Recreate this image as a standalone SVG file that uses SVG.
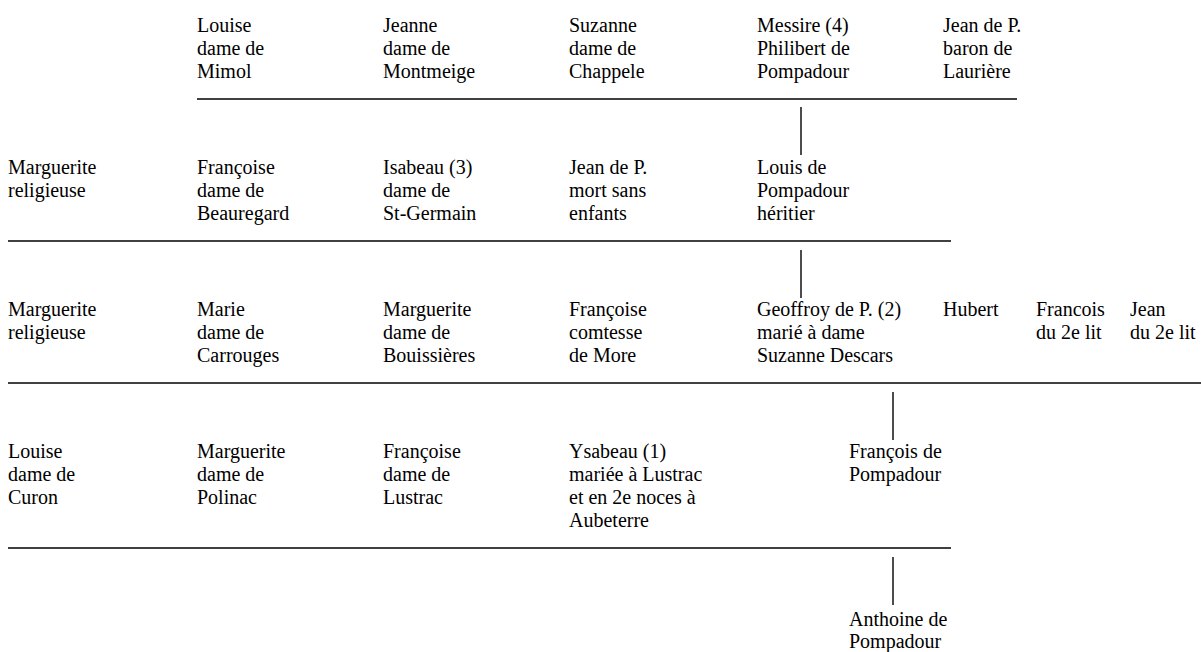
<svg xmlns="http://www.w3.org/2000/svg" width="1201" height="652" viewBox="0 0 1201 652">
<style>
text{font-family:'Liberation Serif','Times New Roman','DejaVu Serif',serif;font-size:20px;fill:#000}
.ln{stroke:#000;stroke-width:1.4;fill:none}
</style>
<rect width="1201" height="652" fill="#fff"/>
<g id="connectors">
<line class="ln" x1="197" y1="99" x2="1017" y2="99"/>
<line class="ln" x1="801" y1="107" x2="801" y2="155"/>
<line class="ln" x1="8" y1="241" x2="951" y2="241"/>
<line class="ln" x1="801" y1="250" x2="801" y2="298"/>
<line class="ln" x1="8" y1="383" x2="1201" y2="383"/>
<line class="ln" x1="893" y1="392" x2="893" y2="440"/>
<line class="ln" x1="8" y1="548" x2="951" y2="548"/>
<line class="ln" x1="893" y1="557" x2="893" y2="605"/>
</g>
<g font-family="Liberation Serif, Times New Roman, DejaVu Serif, serif">
<g id="louise-mimol"><text x="197" y="32">Louise</text><text x="197" y="55">dame de</text><text x="197" y="78">Mimol</text></g>
<g id="jeanne-montmeige"><text x="383" y="32">Jeanne</text><text x="383" y="55">dame de</text><text x="383" y="78">Montmeige</text></g>
<g id="suzanne-chappele"><text x="569" y="32">Suzanne</text><text x="569" y="55">dame de</text><text x="569" y="78">Chappele</text></g>
<g id="philibert"><text x="757" y="32">Messire (4)</text><text x="757" y="55">Philibert de</text><text x="757" y="78">Pompadour</text></g>
<g id="jean-lauriere"><text x="943" y="32">Jean de P.</text><text x="943" y="55">baron de</text><text x="943" y="78">Laurière</text></g>

<g id="marguerite-r2"><text x="8" y="174">Marguerite</text><text x="8" y="197">religieuse</text></g>
<g id="francoise-beauregard"><text x="197" y="174">Françoise</text><text x="197" y="197">dame de</text><text x="197" y="220">Beauregard</text></g>
<g id="isabeau"><text x="383" y="174">Isabeau (3)</text><text x="383" y="197">dame de</text><text x="383" y="220">St-Germain</text></g>
<g id="jean-mort"><text x="569" y="174">Jean de P.</text><text x="569" y="197">mort sans</text><text x="569" y="220">enfants</text></g>
<g id="louis"><text x="757" y="174">Louis de</text><text x="757" y="197">Pompadour</text><text x="757" y="220">héritier</text></g>

<g id="marguerite-r3"><text x="8" y="316">Marguerite</text><text x="8" y="339">religieuse</text></g>
<g id="marie-carrouges"><text x="197" y="316">Marie</text><text x="197" y="339">dame de</text><text x="197" y="362">Carrouges</text></g>
<g id="marguerite-bouissieres"><text x="383" y="316">Marguerite</text><text x="383" y="339">dame de</text><text x="383" y="362">Bouissières</text></g>
<g id="francoise-more"><text x="569" y="316">Françoise</text><text x="569" y="339">comtesse</text><text x="569" y="362">de More</text></g>
<g id="geoffroy"><text x="757" y="316">Geoffroy de P. (2)</text><text x="757" y="339">marié à dame</text><text x="757" y="362">Suzanne Descars</text></g>
<g id="hubert"><text x="943" y="316">Hubert</text></g>
<g id="francois-2e"><text x="1036" y="316">Francois</text><text x="1036" y="339">du 2e lit</text></g>
<g id="jean-2e"><text x="1130" y="316">Jean</text><text x="1130" y="339">du 2e lit</text></g>

<g id="louise-curon"><text x="8" y="458">Louise</text><text x="8" y="481">dame de</text><text x="8" y="504">Curon</text></g>
<g id="marguerite-polinac"><text x="197" y="458">Marguerite</text><text x="197" y="481">dame de</text><text x="197" y="504">Polinac</text></g>
<g id="francoise-lustrac"><text x="383" y="458">Françoise</text><text x="383" y="481">dame de</text><text x="383" y="504">Lustrac</text></g>
<g id="ysabeau"><text x="569" y="458">Ysabeau (1)</text><text x="569" y="481">mariée à Lustrac</text><text x="569" y="504">et en 2e noces à</text><text x="569" y="527">Aubeterre</text></g>
<g id="francois-pompadour"><text x="849" y="458">François de</text><text x="849" y="481">Pompadour</text></g>

<g id="anthoine"><text x="849" y="626">Anthoine de</text><text x="849" y="648">Pompadour</text></g>
</g>
</svg>
